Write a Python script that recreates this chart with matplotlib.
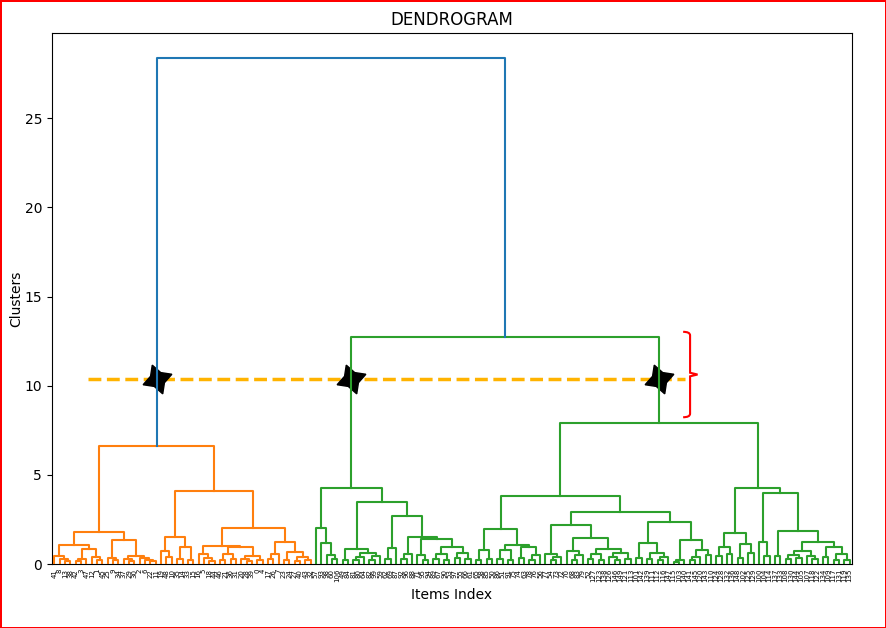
import matplotlib
matplotlib.use("Agg")
import matplotlib.pyplot as plt
from matplotlib.path import Path
from matplotlib.patches import PathPatch

# merge tree: (height, left, right), ints are leaf positions
orange_left = (1.79,
               (1.07, (0.45, 0, (0.30, 1, (0.15, 2, 3))),
                      (0.84, (0.30, (0.15, 4, 5), 6), (0.40, 7, (0.20, 8, 9)))),
               (1.36, (0.35, 10, (0.20, 11, 12)),
                      (0.45, (0.30, 13, (0.15, 14, 15)), (0.35, 16, (0.25, 17, (0.15, 18, 19))))))
orange_right = (4.09,
                (1.51, (0.75, 20, (0.40, 21, 22)), (0.97, (0.30, 23, 24), (0.20, 25, 26))),
                (2.03, (1.03, (0.55, 27, (0.35, 28, (0.15, 29, 30))),
                              (0.93, (0.55, (0.25, 31, 32), (0.30, 33, 34)),
                                     (0.45, (0.30, 35, (0.15, 36, 37)), (0.20, 38, 39)))),
                       (1.21, (0.56, (0.30, 40, 41), 42),
                              (0.69, (0.20, 43, 44), (0.40, (0.15, 45, 46), (0.25, 47, 48))))))
green_left = (4.26,
              (2.02, 49, (1.16, 50, (0.50, 51, (0.26, 52, 53)))),
              (3.50, (0.84, (0.25, 54, 55), (0.60, (0.40, (0.20, 56, 57), 58), (0.45, (0.25, 59, 60), 61))),
                     (2.71, (0.88, (0.30, 62, 63), 64),
                            (1.53, (0.56, (0.30, 65, 66), 67),
                                   (1.40, (0.50, 68, (0.25, 69, 70)),
                                          (0.95, (0.55, (0.30, 71, 72), (0.20, 73, 74)),
                                                 (0.60, (0.35, 75, 76), (0.30, 77, 78))))))))
green_mid = (3.83,
             (1.96, (0.78, (0.25, 79, 80), (0.30, 81, 82)),
                    (1.06, (0.78, (0.30, 83, 84), (0.25, 85, 86)),
                           (0.97, (0.35, 87, 88), (0.50, (0.25, 89, 90), 91)))),
             (2.90, (2.19, (0.56, 92, (0.40, (0.20, 93, 94), 95)),
                           (1.44, (0.75, 96, (0.50, (0.25, 97, 98), 99)),
                                  (0.82, (0.55, (0.30, 100, 101), (0.25, 102, 103)),
                                         (0.60, (0.40, 104, (0.20, 105, 106)), (0.30, 107, 108))))),
                    (2.34, (1.20, (0.35, 109, 110), (0.60, (0.30, 111, 112), (0.40, (0.20, 113, 114), 115))),
                           (1.35, (0.20, (0.10, 116, 117), 118),
                                  (0.78, (0.40, (0.20, 119, 120), 121), (0.50, 122, 123))))))
green_right = (4.24,
               (1.72, (0.97, (0.45, 124, 125), (0.55, 126, 127)),
                      (1.10, (0.35, 128, 129), (0.60, 130, 131))),
               (3.96, (1.21, 132, (0.45, 133, 134)),
                      (1.85, (0.45, 135, 136),
                             (1.21, (0.75, (0.50, (0.30, 137, 138), (0.35, 139, 140)),
                                           (0.45, 141, (0.30, 142, 143))),
                                    (0.97, (0.40, 144, 145),
                                           (0.56, (0.25, 146, 147), (0.20, 148, 149)))))))
green_right_h = 7.93
green_h = 12.72
root_h = 28.36

leaf_labels = [41, 8, 13, 38, 42, 3, 47, 12, 1, 45, 25, 9, 34, 37, 29, 30, 2, 6, 22, 11,
               19, 48, 10, 35, 14, 33, 15, 16, 5, 18, 44, 46, 21, 36, 31, 20, 28, 39, 0, 4,
               17, 26, 7, 23, 24, 27, 40, 43, 32,
               57, 93, 98, 60, 106, 49, 84, 81, 80, 64, 82, 99, 59, 62, 69, 87, 92, 96, 88, 71,
               95, 94, 89, 67, 90, 53, 97, 55, 66, 61, 65, 58, 85, 50, 86, 51, 91, 75, 74, 63,
               78, 76, 56, 77, 54, 73, 72, 70, 68, 83, 79,
               52, 127, 123, 138, 126, 146, 149, 121, 113, 101, 142, 139, 111, 112, 116, 147, 115,
               103, 140, 141, 145, 120, 143, 110, 124, 128, 132, 136, 148, 102, 125, 129, 100, 104,
               114, 137, 133, 108, 130, 144, 105, 107, 118, 122, 134, 109, 117, 131, 119, 135]

cut_height = 10.37
cut_x = (68, 1187)

tree = (root_h,
        (6.61, orange_left, orange_right),
        (green_h, green_left, (green_right_h, green_mid, green_right)))

threshold = 0.7 * root_h
palette = ["C1", "C2", "C3", "C4"]

fig = plt.figure(figsize=(8.86, 6.28), dpi=100)
fig.patch.set_edgecolor("red")
fig.patch.set_linewidth(2)
ax = fig.add_axes([0.0584, 0.1019, 0.9036, 0.8456])

links = []
crossings = []
counter = [0]


def layout(node, color):
    if isinstance(node, int):
        return 5 + 10 * node, 0.0
    h, left, right = node
    if color is None and h <= threshold:
        color = palette[counter[0]]
        counter[0] += 1
    xl, hl = layout(left, color)
    xr, hr = layout(right, color)
    links.append(([xl, xl, xr, xr], [hl, h, h, hr], color or "C0"))
    for xc, hc in ((xl, hl), (xr, hr)):
        if hc < cut_height < h:
            crossings.append(xc)
    return (xl + xr) / 2, h


layout(tree, None)
for xs, ys, c in links:
    ax.plot(xs, ys, color=c, lw=1.5, zorder=3)

n = len(leaf_labels)
ax.set_xlim(0, 10 * n)
ax.set_ylim(0, root_h * 1.05)
ax.set_xticks([5 + 10 * i for i in range(n)])
ax.set_xticklabels(leaf_labels, rotation=90, fontsize=5)
ax.tick_params(axis="x", length=0)

ax.plot(cut_x, [cut_height, cut_height], ls="--", color="#ffb300", lw=2.5, zorder=1)
ax.plot(crossings, [cut_height] * len(crossings), ls="none", marker=(4, 1, 20),
        markersize=22, color="black", zorder=2)

# red brace marking the gap between the two highest green merges
top, bot = green_h + 0.3, green_right_h + 0.3
mid = (top + bot) / 2
x0, x1, x2 = 1183, 1196, 1210
verts = [(x0, top), (x1, top), (x1, top - 0.2), (x1, mid + 0.1), (x2, mid),
         (x1, mid - 0.1), (x1, bot + 0.2), (x1, bot), (x0, bot)]
codes = [Path.MOVETO, Path.CURVE3, Path.CURVE3, Path.LINETO, Path.LINETO,
         Path.LINETO, Path.LINETO, Path.CURVE3, Path.CURVE3]
ax.add_patch(PathPatch(Path(verts, codes), fill=False, edgecolor="red", lw=1.5))

ax.set_title("DENDROGRAM")
ax.set_xlabel("Items Index")
ax.set_ylabel("Clusters", labelpad=1)

fig.savefig("out.png", dpi=100, edgecolor=fig.get_edgecolor())
